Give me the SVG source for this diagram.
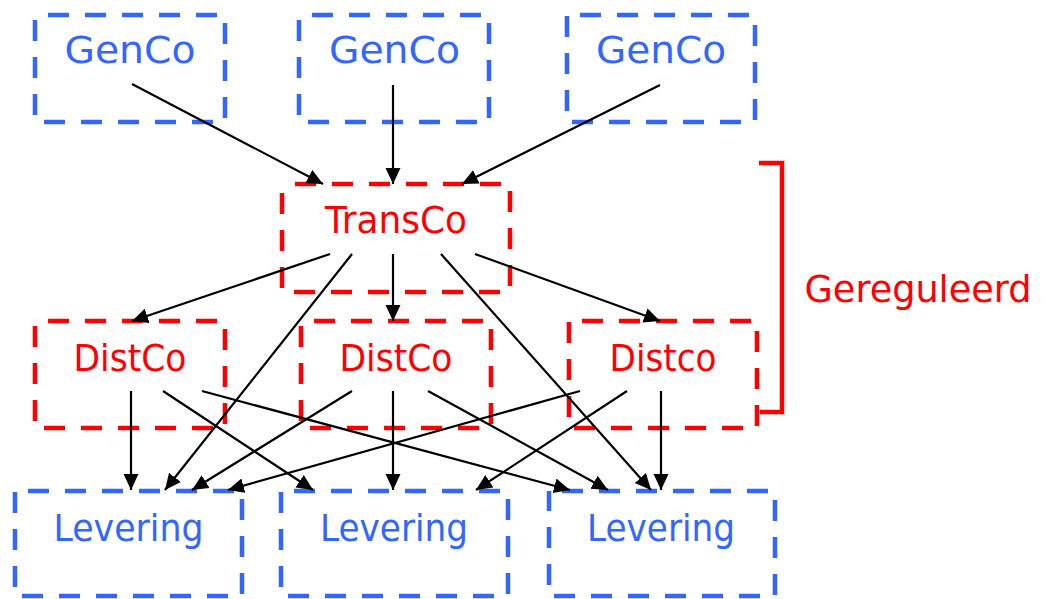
<svg xmlns="http://www.w3.org/2000/svg" width="1047" height="599" viewBox="0 0 1047 599">
<style>
.box{fill:none;stroke-width:4.5;stroke-dasharray:21 16;stroke-dashoffset:24}
.blue{stroke:#3366FF}
.red{stroke:#FF0000}
.t{font-family:"DejaVu Sans","Liberation Sans",sans-serif;font-size:38px;text-anchor:middle}
.tb{fill:#3366FF}
.tr{fill:#FF0000}
.c line{stroke:#000;stroke-width:2.2;marker-end:url(#ah)}
</style>
<defs>
<marker id="ah" markerUnits="userSpaceOnUse" markerWidth="18" markerHeight="16" refX="16" refY="7.5" orient="auto">
<path d="M0,0 L16,7.5 L0,15 z" fill="#000"/>
</marker>
</defs>
<rect width="1047" height="599" fill="#fff"/>
<g id="genco1"><rect class="box blue" x="35" y="15" width="190" height="107"/><text class="t tb" x="130" y="63" textLength="131" lengthAdjust="spacingAndGlyphs">GenCo</text></g>
<g id="genco2"><rect class="box blue" x="299" y="15" width="190" height="107"/><text class="t tb" x="394.5" y="63" textLength="131" lengthAdjust="spacingAndGlyphs">GenCo</text></g>
<g id="genco3"><rect class="box blue" x="567" y="15" width="188" height="107"/><text class="t tb" x="661" y="63" textLength="130" lengthAdjust="spacingAndGlyphs">GenCo</text></g>
<g id="transco"><rect class="box red" x="282" y="184" width="228" height="108"/><text class="t tr" x="396" y="233" textLength="142" lengthAdjust="spacingAndGlyphs">TransCo</text></g>
<g id="distco1"><rect class="box red" x="35" y="321" width="190" height="107"/><text class="t tr" x="130" y="371" textLength="113" lengthAdjust="spacingAndGlyphs">DistCo</text></g>
<g id="distco2"><rect class="box red" x="301" y="321" width="190" height="107"/><text class="t tr" x="396" y="371" textLength="113" lengthAdjust="spacingAndGlyphs">DistCo</text></g>
<g id="distco3"><rect class="box red" x="569" y="321" width="188" height="107"/><text class="t tr" x="663" y="371" textLength="107" lengthAdjust="spacingAndGlyphs">Distco</text></g>
<g id="levering1"><rect class="box blue" x="15" y="491" width="227" height="105"/><text class="t tb" x="128.5" y="541" textLength="150" lengthAdjust="spacingAndGlyphs">Levering</text></g>
<g id="levering2"><rect class="box blue" x="281" y="491" width="227" height="105"/><text class="t tb" x="394" y="541" textLength="148" lengthAdjust="spacingAndGlyphs">Levering</text></g>
<g id="levering3"><rect class="box blue" x="549" y="491" width="226" height="105"/><text class="t tb" x="661" y="541" textLength="148" lengthAdjust="spacingAndGlyphs">Levering</text></g>
<g id="gereguleerd"><path d="M759,163 H782 V412 H760" fill="none" stroke="#FF0000" stroke-width="4.5"/><text class="t tr" x="918" y="302" textLength="227" lengthAdjust="spacingAndGlyphs">Gereguleerd</text></g>
<g class="c" id="connectors">
<line x1="132" y1="84" x2="323" y2="184"/>
<line x1="393" y1="85" x2="393" y2="184"/>
<line x1="660" y1="85" x2="462" y2="184"/>
<line x1="330" y1="254" x2="132" y2="321"/>
<line x1="352" y1="254" x2="165" y2="490"/>
<line x1="393" y1="254" x2="393" y2="321"/>
<line x1="441" y1="254" x2="651" y2="490"/>
<line x1="475" y1="254" x2="660" y2="321"/>
<line x1="131" y1="391" x2="131" y2="490"/>
<line x1="163" y1="391" x2="313" y2="490"/>
<line x1="202" y1="391" x2="570" y2="490"/>
<line x1="352" y1="391" x2="192" y2="490"/>
<line x1="393" y1="391" x2="393" y2="490"/>
<line x1="428" y1="391" x2="608" y2="490"/>
<line x1="580" y1="391" x2="228" y2="490"/>
<line x1="627" y1="391" x2="476" y2="490"/>
<line x1="661" y1="391" x2="661" y2="490"/>
</g>
</svg>
